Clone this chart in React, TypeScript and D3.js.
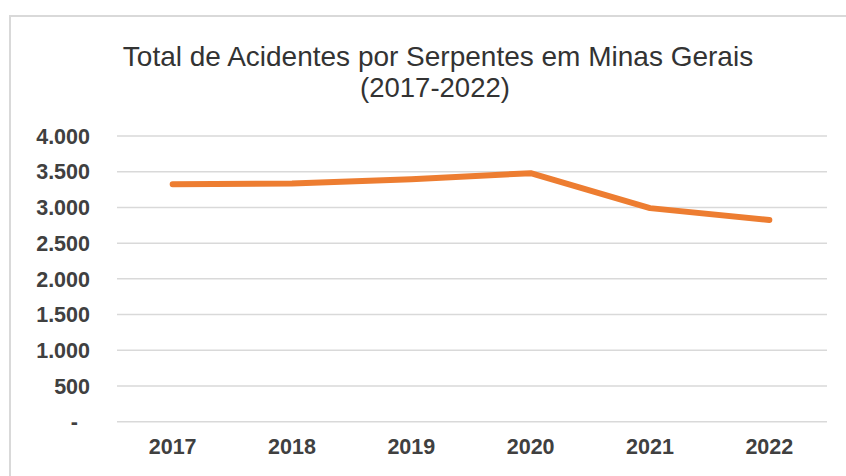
import React from "react";
import * as d3 from "d3";

const years = ["2017", "2018", "2019", "2020", "2021", "2022"];
const acidentes = [3325, 3335, 3395, 3480, 2990, 2825];
const yTicks = [0, 500, 1000, 1500, 2000, 2500, 3000, 3500, 4000];
const titleLines = ["Total de Acidentes por Serpentes em Minas Gerais", "(2017-2022)"];

const W = 846;
const H = 476;

function fmt(v: number): string {
  if (v === 0) return "-";
  return d3.format(",")(v).replace(/,/g, ".");
}

export default function App() {
  const x = d3.scaleBand<string>().domain(years).range([113, 829]);
  const y = d3.scaleLinear().domain([0, 4000]).range([421.7, 136]);
  const line = d3
    .line<number>()
    .x((_, i) => (x(years[i]) as number) + x.bandwidth() / 2)
    .y((d) => y(d));

  return (
    <svg
      width={W}
      height={H}
      style={{ position: "absolute", left: 0, top: 0, background: "#fff" }}
      fontFamily="'Liberation Sans', Arial, sans-serif"
    >
      <rect x={0} y={0} width={W} height={H} fill="#fff" />
      <rect x={10} y={16} width={W + 20} height={H + 20} fill="#fff" stroke="#d9d9d9" strokeWidth={2} />
      <text x={438} y={66} textAnchor="middle" fontSize={28} fill="#333">
        {titleLines[0]}
      </text>
      <text x={435} y={97} textAnchor="middle" fontSize={27.5} fill="#333">
        {titleLines[1]}
      </text>
      {yTicks.map((t) => (
        <g key={t}>
          <line x1={117} x2={827} y1={y(t)} y2={y(t)} stroke="#d9d9d9" strokeWidth={1.5} />
          <text
            x={t === 0 ? 78 : 90}
            y={y(t)}
            dy="0.36em"
            textAnchor="end"
            fontSize={21.5}
            fontWeight="bold"
            fill="#404040"
          >
            {fmt(t)}
          </text>
        </g>
      ))}
      {years.map((yr) => (
        <text
          key={yr}
          x={(x(yr) as number) + x.bandwidth() / 2}
          y={454}
          textAnchor="middle"
          fontSize={21.5}
          fontWeight="bold"
          fill="#404040"
        >
          {yr}
        </text>
      ))}
      <path
        d={line(acidentes) || ""}
        fill="none"
        stroke="#ED7D31"
        strokeWidth={6}
        strokeLinejoin="round"
        strokeLinecap="round"
      />
    </svg>
  );
}
